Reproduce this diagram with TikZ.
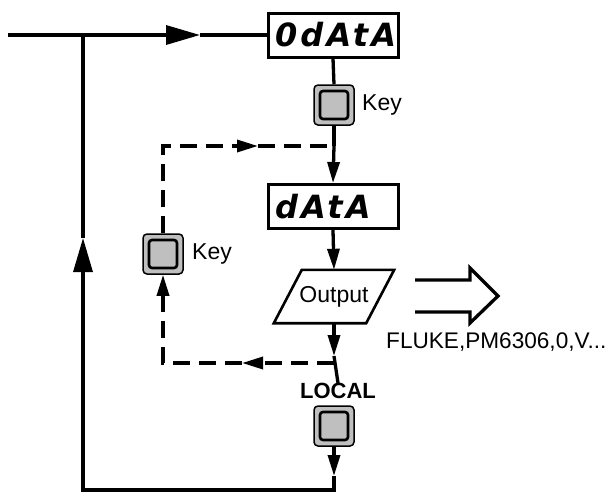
\documentclass[tikz,border=0pt]{standalone}
\usepackage{fontspec}
\setmainfont{Liberation Sans}
\newfontfamily\segfont{DejaVu Sans}[LetterSpace=10]
\usetikzlibrary{arrows.meta,calc}
\begin{document}
\begin{tikzpicture}[x=1pt,y=-1pt,
  line/.style={line width=3.3pt},
  dsh/.style={line width=3.3pt, dash pattern=on 17pt off 9pt},
  tip/.style={-{Triangle[length=21pt,width=12pt]}},
  bigtip/.style={-{Triangle[length=34pt,width=19pt]}},
  lbl/.style={font=\fontsize{23}{27}\selectfont, inner sep=0pt},
  disp/.style={draw, line width=3pt, minimum height=44pt, text width=116pt, inner xsep=7pt, inner ysep=0pt, align=left,
    font=\segfont\bfseries\itshape\fontsize{32}{34}\selectfont},
  keyb/.style={draw, line width=1.5pt, rounded corners=4pt, minimum size=40pt, inner sep=0pt, fill=gray!50,
    path picture={\draw[line width=2.6pt, rounded corners=3pt]
      ($(path picture bounding box.north west)+(6pt,-6pt)$) rectangle
      ($(path picture bounding box.south east)+(-6pt,6pt)$);}},
  outp/.style={minimum width=92pt, minimum height=53pt, inner sep=0pt, font=\fontsize{23}{27}\selectfont}
]
\useasboundingbox (0,0) rectangle (611,496);

% nodes
\coordinate (in) at (8,35);
\coordinate (j1) at (83,35);
\coordinate (t1) at (200,35);
\node[disp] (od) at (333,35) {0dAtA};
\node[keyb] (k1) at (334,105) {};
\node[lbl, anchor=west] (k1t) at (362,105) {Key};
\coordinate (j2) at (334,146);
\node[disp] (da) at (333,206.5) {dAtA};
\node[outp] (out) at (334,296.5) {Output};
\draw[line width=2.6pt, line join=miter]
  ($(out.north west)+(14pt,0pt)$) -- ($(out.north east)+(14pt,0pt)$) --
  ($(out.south east)+(-14pt,0pt)$) -- ($(out.south west)+(-14pt,0pt)$) -- cycle;
\coordinate (a3) at (334,356);
\coordinate (j3) at (334,363);
\node[font=\bfseries\fontsize{22}{26}\selectfont, inner sep=0pt] (loc) at (338,391) {LOCAL};
\node[keyb] (k3) at (334,426) {};
\coordinate (a5) at (334,476);
\coordinate (c3) at (334,490);
\coordinate (c4) at (83,490);
\coordinate (a6) at (83,238);

\node[keyb] (k2) at (163,254) {};
\node[lbl, anchor=west] (k2t) at (192,254) {Key};
\coordinate (c1) at (163,146);
\coordinate (c2) at (163,363);
\coordinate (m1) at (242,363);
\coordinate (m2) at (258,146);

\node[lbl, anchor=west, font=\fontsize{22.6}{27}\selectfont] (fl) at (386,342) {FLUKE,PM6306,0,V...};

% connectors
\draw[line, bigtip] (in) -- (t1);
\draw[line] (t1) -- (od.west);
\draw[line] (od.south) -- (k1.north);
\draw[line] (k1.south) -- (j2);
\draw[line, tip] (j2) -- (da.north);
\draw[line, tip] (da.south) -- (out.north);
\draw[line, tip] (out.south) -- (a3);
\draw[line] (a3) -- (loc.north);
\draw[line, tip] (k3.south) -- (a5);
\draw[line, bigtip] (a5) -- (c3) -- (c4) -- (a6);
\draw[line] (a6) -- (j1);

\draw[dsh, tip] (j3) -- (m1);
\draw[dsh, tip] (m1) -- (c2) -- (k2.south);
\draw[dsh, tip] (k2.north) -- (c1) -- (m2);
\draw[dsh] (m2) -- (j2);

% open output arrow
\draw[line, line join=miter] (415,280) -- (470,280) -- (470,268) -- (498,296) -- (470,323) -- (470,312) -- (415,312);
\end{tikzpicture}
\end{document}
